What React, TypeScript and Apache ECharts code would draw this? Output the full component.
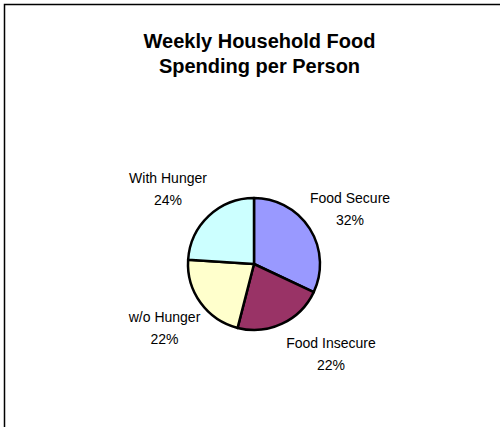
import React, { useEffect, useRef } from "react";
import * as echarts from "echarts";

const TITLE_LINES = ["Weekly Household Food", "Spending per Person"];
const CATEGORIES = ["Food Secure", "Food Insecure", "w/o Hunger", "With Hunger"];
const VALUES = [32, 22, 22, 24];
const COLORS = ["#9999FF", "#993366", "#FFFFCC", "#CCFFFF"];
// label centre positions (px) — layout only
const LABEL_POS: [number, number][] = [
  [350, 209],
  [331, 354],
  [164.5, 328],
  [168, 189],
];

export default function App() {
  const ref = useRef<HTMLDivElement>(null);
  useEffect(() => {
    document.body.style.margin = "0";
    if (!ref.current) return;
    const chart = echarts.init(ref.current, null, { renderer: "svg" });
    const font = "'Liberation Sans', Arial, sans-serif";
    chart.setOption({
      animation: false,
      backgroundColor: "#ffffff",
      title: {
        text: TITLE_LINES.join("\n"),
        left: 259.5,
        top: 28,
        textAlign: "center",
        padding: 0,
        textStyle: {
          fontFamily: font,
          fontSize: 20,
          fontWeight: "bold",
          color: "#000",
          lineHeight: 25,
        },
      },
      graphic: [
        {
          type: "rect",
          shape: { x: 4.5, y: 4.5, width: 600, height: 600 },
          style: { fill: "none", stroke: "#000", lineWidth: 1.5 },
          silent: true,
        },
      ],
      series: [
        {
          type: "pie",
          center: [254, 264],
          radius: 66,
          startAngle: 90,
          clockwise: true,
          avoidLabelOverlap: false,
          itemStyle: { borderColor: "#000", borderWidth: 2.5 },
          label: {
            show: true,
            position: "outside",
            formatter: (p: any) => `${p.name}\n${p.value}%`,
            fontFamily: font,
            fontSize: 14,
            lineHeight: 22,
            color: "#000",
            align: "center",
          },
          labelLine: { show: false },
          labelLayout: (params: any) => {
            const pos = LABEL_POS[params.dataIndex];
            return { x: pos[0], y: pos[1], align: "center", verticalAlign: "middle" };
          },
          emphasis: { disabled: true },
          data: CATEGORIES.map((name, i) => ({
            name,
            value: VALUES[i],
            itemStyle: { color: COLORS[i] },
          })),
        },
      ],
    });
    return () => chart.dispose();
  }, []);
  return <div ref={ref} style={{ width: 500, height: 427 }} />;
}
